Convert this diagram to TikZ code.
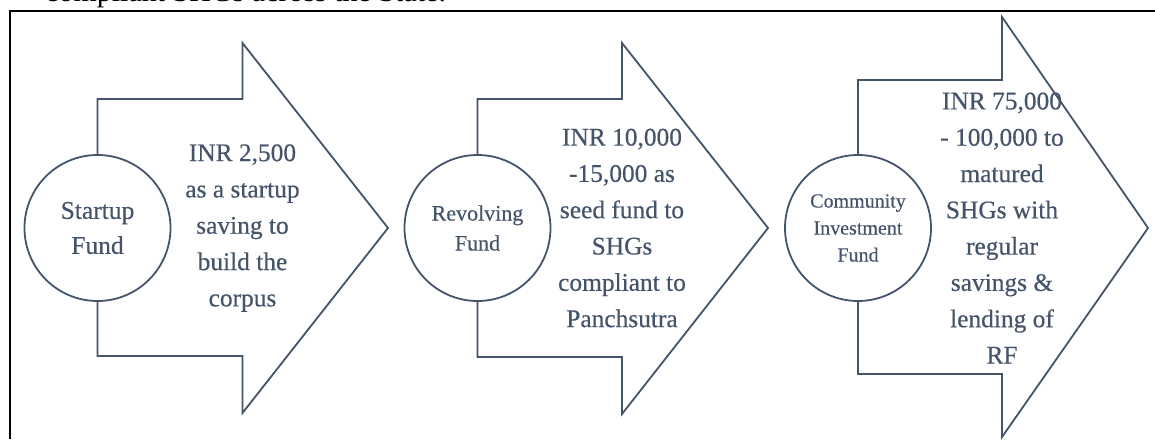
\documentclass[tikz,border=0pt]{standalone}
\usepackage{fontspec}
\setmainfont{Liberation Serif}
\newfontfamily\fundfont[FakeBold=0.4]{Liberation Serif}
\definecolor{slate}{HTML}{44546A}
\tikzset{
  fundarrow/.style={draw=slate, line width=1.8pt, fill=white, line join=miter},
  fundcircle/.style={circle, draw=slate, line width=1.8pt, fill=white, minimum size=146pt, inner sep=0pt, align=center, text=slate},
  fundtext/.style={align=center, text=slate, font=\fundfont\fontsize{25.4}{36.3}\selectfont}
}
\begin{document}
\begin{tikzpicture}[x=1pt, y=-1pt]
            \useasboundingbox (0,0) rectangle (1155,439);
            % cut-off line of text above the frame
            \node[anchor=base west, inner sep=0pt, font=\fontsize{30}{32}\selectfont] (caption) at (45,1.3) {compliant SHGs across the State.};
            % frame
            \draw[line width=2.6pt] (10,439) -- (10,11) -- (1155,11);
            % block arrows
            \draw[fundarrow] (97.5,99) -- (242.5,99) -- (242.5,43) -- (388,228) -- (242.5,413) -- (242.5,356) -- (97.5,356) -- cycle;
            \draw[fundarrow] (477.5,99) -- (622,99) -- (622,43) -- (768,228) -- (622,414) -- (622,357) -- (477.5,357) -- cycle;
            \draw[fundarrow] (858,80) -- (1002,80) -- (1002,17) -- (1148,228) -- (1002,437) -- (1002,374) -- (858,374) -- cycle;
            % fund circles
            \node[fundcircle, font=\fundfont\fontsize{25.5}{35}\selectfont] (startup) at (97.5,228) {Startup\\Fund};
            \node[fundcircle, font=\fundfont\fontsize{22}{30}\selectfont] (revolving) at (477.5,228) {Revolving\\Fund};
            \node[fundcircle, font=\fundfont\fontsize{20}{27}\selectfont] (cif) at (858,228) {Community\\Investment\\Fund};
            % amounts inside the arrows
            \node[fundtext] (startupText) at (242.5,228) {INR 2,500\\as a startup\\saving to\\build the\\corpus};
            \node[fundtext] (revolvingText) at (622,228) {INR 10,000\\-15,000 as\\seed fund to\\SHGs\\compliant to\\Panchsutra};
            \node[fundtext] (cifText) at (1002,228) {INR 75,000\\- 100,000 to\\matured\\SHGs with\\regular\\savings \&\\lending of\\RF};
        \end{tikzpicture}
\end{document}
